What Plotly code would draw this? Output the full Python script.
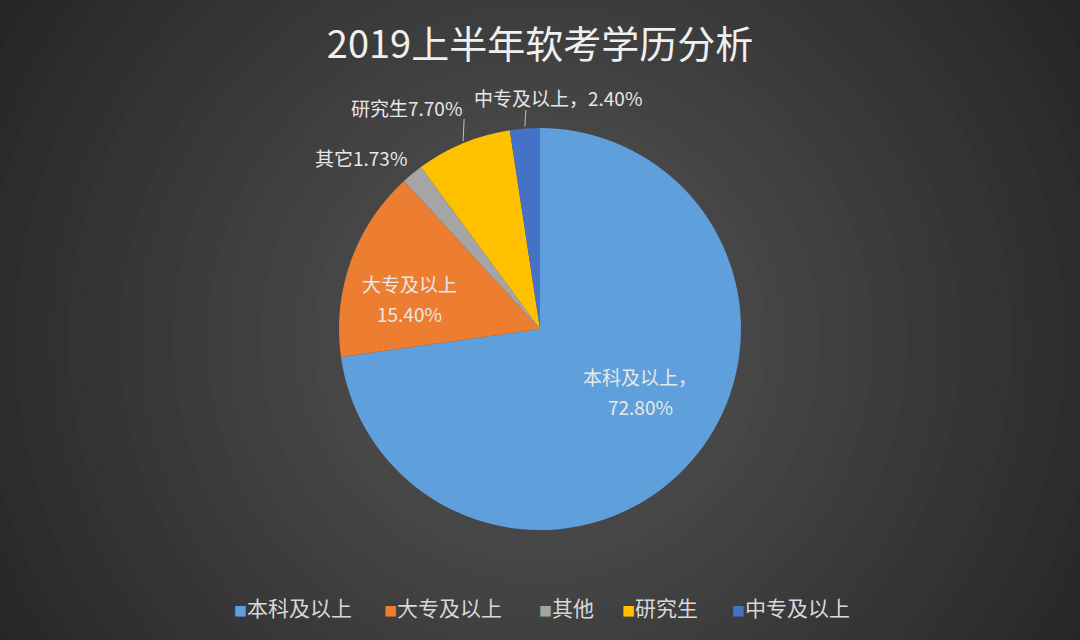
import math
import plotly.graph_objects as go

# ---- data ----
categories = ["本科及以上", "大专及以上", "其他", "研究生", "中专及以上"]
values = [72.80, 15.40, 1.73, 7.70, 2.40]
label_lines = [["本科及以上，", "72.80%"], ["大专及以上", "15.40%"], ["其它1.73%"], ["研究生7.70%"], ["中专及以上，2.40%"]]
colors = ["#5f9fdb", "#ED7D31", "#A5A5A5", "#FFC000", "#4472C4"]
title_text = "2019上半年软考学历分析"

W, H = 1080, 640
CX, CY, R = 540, 329, 201  # pie centre / radius in px

def px(x):
    return x / W

def py(y):
    return 1 - y / H

fig = go.Figure()
fig.add_trace(go.Pie(
    labels=categories,
    values=values,
    sort=False,
    direction="clockwise",
    rotation=0,
    marker=dict(colors=colors, line=dict(width=0)),
    textinfo="none",
    hoverinfo="label+percent",
    showlegend=False,
    domain=dict(x=[px(CX - R), px(CX + R)], y=[py(CY + R), py(CY - R)]),
))

# background radial gradient
shapes = []
steps = 40
for i in range(steps, 0, -1):
    d = 700 * i / steps
    c = int(max(36, 88 - 0.078 * d))
    col = f"rgb({c},{c},{c})"
    shapes.append(dict(type="circle", xref="paper", yref="paper", layer="below",
                       x0=px(CX - d), x1=px(CX + d), y0=py(CY + 10 + d), y1=py(CY + 10 - d),
                       fillcolor=col, line=dict(width=0)))

# label placement (px): (x, first-line y, x anchor)
label_pos = [(640, 376, "center"), (409, 283, "center"), (409, 158, "right"), (464, 108, "right"), (472, 97, "left")]
label_line_end_y = [None, None, None, 119, 110]
LINE_H = 30

total = sum(values)
annotations = []
cum = 0.0
font_lbl = dict(size=19, color="#e8e8e8", family="Noto Sans CJK SC")
for i, (lines, v) in enumerate(zip(label_lines, values)):
    mid = (cum + v / 2) / total * 2 * math.pi
    cum += v
    ex = CX + R * math.sin(mid)
    ey = CY - R * math.cos(mid)
    lx, ly, anc = label_pos[i]
    for j, t in enumerate(lines):
        annotations.append(dict(x=px(lx), y=py(ly + j * LINE_H), xref="paper", yref="paper", text=t,
                                showarrow=False, xanchor=anc, yanchor="middle", font=font_lbl))
    if label_line_end_y[i] is not None:
        shapes.append(dict(type="line", xref="paper", yref="paper",
                           x0=px(ex), y0=py(ey - 2), x1=px(ex + 1), y1=py(label_line_end_y[i]),
                           line=dict(color="#bfbfbf", width=1)))

# manual legend
legend_x = [232, 382, 537, 620, 730]
for cat, col, lxp in zip(categories, colors, legend_x):
    annotations.append(dict(x=px(lxp), y=py(607), xref="paper", yref="paper",
                            text=f'<span style="color:{col};font-size:13px">■</span>{cat}',
                            showarrow=False, xanchor="left", yanchor="middle",
                            font=dict(size=21, color="#d9d9d9", family="Noto Sans CJK SC")))

fig.update_layout(
    width=W, height=H,
    margin=dict(l=0, r=0, t=0, b=0),
    paper_bgcolor="#2a2a2a",
    plot_bgcolor="#2a2a2a",
    title=dict(text=title_text, x=0.5, xanchor="center", y=py(45), yanchor="middle",
               font=dict(size=38, color="#f0f0f0", family="Noto Sans CJK SC")),
    showlegend=False,
    shapes=shapes,
    annotations=annotations,
)

fig.write_html("out.html", config={"displayModeBar": False},
               post_script="document.body.style.margin='0';")
